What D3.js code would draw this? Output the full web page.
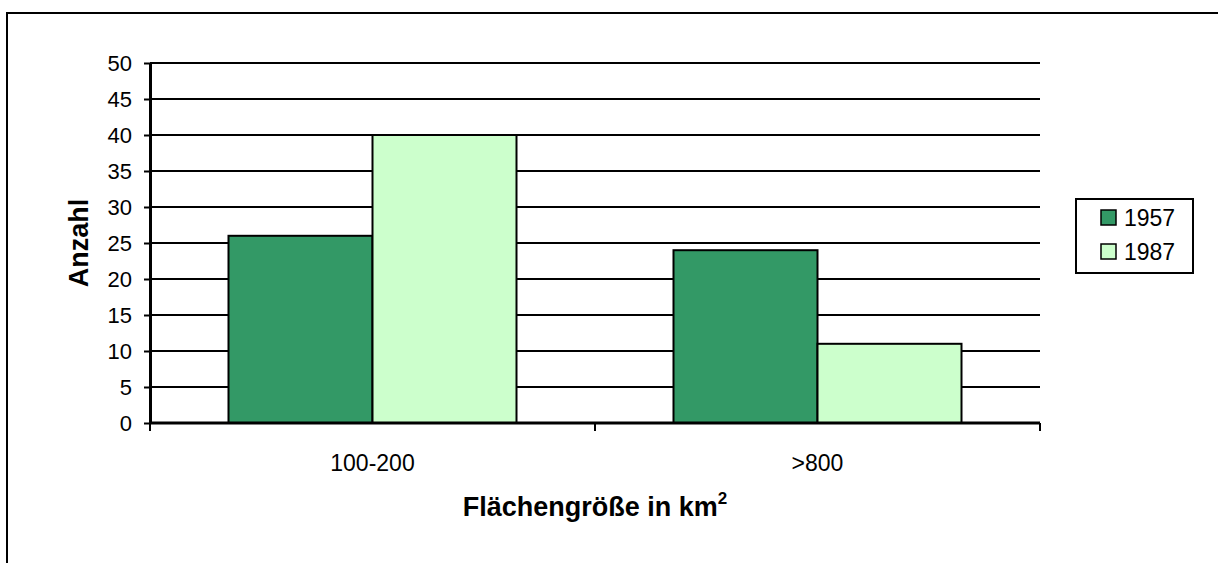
<!DOCTYPE html>
<html><head><meta charset="utf-8">
<script src="https://cdn.jsdelivr.net/npm/d3@7/dist/d3.min.js"></script>
<style>html,body{margin:0;padding:0;background:#fff;}svg{display:block;font-family:Arial,"Liberation Sans",sans-serif;}</style>
</head><body>
<svg id="chart" width="1218" height="563"></svg>
<script>
const categories = ["100-200", ">800"];
const seriesNames = ["1957", "1987"];
const values1957 = [26, 24];
const values1987 = [40, 11];
const yTicks = [0,5,10,15,20,25,30,35,40,45,50];
const colors = ["#339966", "#CCFFCC"];

const svg = d3.select("#chart");
svg.append("rect").attr("x",7).attr("y",13).attr("width",1400).attr("height",700)
  .attr("fill","#fff").attr("stroke","#000").attr("stroke-width",2);

const L=150, R=1040, T=63, B=423;
const x0 = d3.scaleBand().domain(categories).range([L,R]).paddingInner(0.3528).paddingOuter(0.1764);
const x1 = d3.scaleBand().domain(seriesNames).range([0,x0.bandwidth()]);
const y = d3.scaleLinear().domain([0,50]).range([B,T]);

// gridlines
svg.append("g").selectAll("line").data(yTicks.filter(d=>d>0)).join("line")
  .attr("x1",L).attr("x2",R).attr("y1",d=>y(d)).attr("y2",d=>y(d))
  .attr("stroke","#000").attr("stroke-width",2);

// bars
const data = categories.map((c,i)=>({c, vals:[values1957[i], values1987[i]]}));
const g = svg.append("g");
data.forEach(d=>{
  d.vals.forEach((v,j)=>{
    g.append("rect").attr("x",x0(d.c)+x1(seriesNames[j])).attr("y",y(v))
      .attr("width",x1.bandwidth()).attr("height",B-y(v))
      .attr("fill",colors[j]).attr("stroke","#000").attr("stroke-width",2);
  });
});

// y axis
const yAxis = d3.axisLeft(y).tickValues(yTicks).tickSize(6).tickSizeOuter(0);
const ya = svg.append("g").attr("transform",`translate(${L},0)`).call(yAxis);
ya.attr("font-size",null).attr("font-family",null);
ya.select(".domain").attr("stroke","#000").attr("stroke-width",3);
ya.selectAll(".tick line").attr("stroke","#000").attr("stroke-width",2);
ya.selectAll(".tick text").style("font-size","22px").attr("fill","#000").attr("x",-18).attr("dy","0.36em");

// x axis
const xa = svg.append("g").attr("transform",`translate(0,${B})`);
xa.append("line").attr("x1",L).attr("x2",R).attr("stroke","#000").attr("stroke-width",3);
const boundaries = [L, (x0(categories[0])+x0.bandwidth()+x0(categories[1]))/2, R];
xa.selectAll("line.tk").data(boundaries).join("line").attr("class","tk")
  .attr("x1",d=>d).attr("x2",d=>d).attr("y1",0).attr("y2",8).attr("stroke","#000").attr("stroke-width",2);
xa.selectAll("text").data(categories).join("text")
  .attr("x",d=>x0(d)+x0.bandwidth()/2).attr("y",48).attr("text-anchor","middle")
  .style("font-size","23px").text(d=>d);

// axis titles
svg.append("text").attr("transform","translate(88,243) rotate(-90)").attr("text-anchor","middle")
  .style("font-size","27px").attr("font-weight","bold").text("Anzahl");
const xt = svg.append("text").attr("x",595).attr("y",516).attr("text-anchor","middle")
  .style("font-size","27px").attr("font-weight","bold");
xt.append("tspan").text("Flächengröße in km");
xt.append("tspan").attr("dy",-12).style("font-size","17px").text("2");

// legend
const lg = svg.append("g");
lg.append("rect").attr("x",1076).attr("y",199).attr("width",117).attr("height",74)
  .attr("fill","#fff").attr("stroke","#000").attr("stroke-width",2);
seriesNames.forEach((s,i)=>{
  const base = 226 + i*34;
  lg.append("rect").attr("x",1101).attr("y",base-16).attr("width",15).attr("height",15)
    .attr("fill",colors[i]).attr("stroke","#000").attr("stroke-width",1.5);
  lg.append("text").attr("x",1124).attr("y",base).style("font-size","23px").text(s);
});
</script>
</body></html>
